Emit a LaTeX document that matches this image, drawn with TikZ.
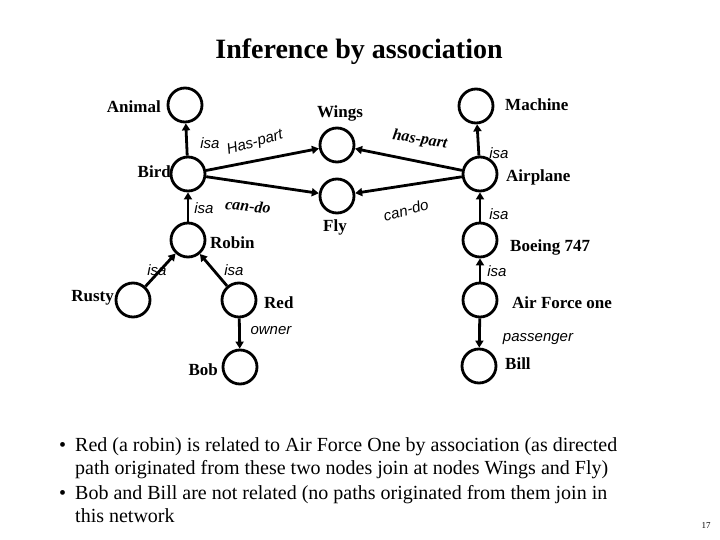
\documentclass[tikz,border=0pt]{standalone}
\usepackage{fontspec}
\setmainfont{Liberation Serif}
\newfontfamily\edgefont{Liberation Sans}
\usetikzlibrary{arrows.meta}
\tikzset{
  nd/.style={circle, draw, line width=2.8pt, minimum size=34pt, inner sep=0pt},
  arr/.style={line width=2.8pt, -{Triangle[length=7pt,width=8pt]}},
  lab/.style={font=\bfseries\fontsize{17}{19}\selectfont, inner sep=1pt},
  el/.style={font=\edgefont\itshape\fontsize{15}{17}\selectfont, inner sep=1pt},
  elb/.style={font=\bfseries\itshape\fontsize{16}{18}\selectfont, inner sep=1pt},
  bul/.style={font=\fontsize{20}{23.5}\selectfont, align=left, anchor=north west, inner sep=0pt}
}
\newcommand{\mybul}{\makebox[0pt][r]{\textbullet\hspace{9pt}}}
\begin{document}
\begin{tikzpicture}[x=1pt,y=-1pt]
\useasboundingbox (0,0) rectangle (720,540);
\node[font=\bfseries\fontsize{28}{30}\selectfont] (title) at (359,52) {Inference by association};
% circles
\node[nd] (animal) at (185,105) {};
\node[nd] (bird) at (188,174) {};
\node[nd] (robin) at (188,240) {};
\node[nd] (rusty) at (133,300) {};
\node[nd] (red) at (239,300) {};
\node[nd] (bob) at (240,367) {};
\node[nd] (wings) at (337,145) {};
\node[nd] (fly) at (337,196) {};
\node[nd] (machine) at (476,106) {};
\node[nd] (airplane) at (480,174) {};
\node[nd] (boeing) at (480,240) {};
\node[nd] (afo) at (480,300) {};
\node[nd] (bill) at (479,366) {};
% labels
\node[lab, anchor=east] (lanimal) at (162,107) {Animal};
\node[lab] (lwings) at (340,113) {Wings};
\node[lab, anchor=west] (lmachine) at (504,105) {Machine};
\node[lab, anchor=east] (lbird) at (172,172) {Bird};
\node[lab, anchor=west] (lrobin) at (209,243) {Robin};
\node[lab, anchor=east] (lrusty) at (115,298) {Rusty};
\node[lab, anchor=west] (lred) at (263,303) {Red};
\node[lab, anchor=east] (lbob) at (219,370) {Bob};
\node[lab] (lfly) at (335,227) {Fly};
\node[lab, anchor=west] (lairplane) at (505,177) {Airplane};
\node[lab, anchor=west] (lboeing) at (509,247) {Boeing 747};
\node[lab, anchor=west] (lafo) at (511,303) {Air Force one};
\node[lab, anchor=west] (lbill) at (504,364) {Bill};
% edges
\draw[arr] (bird) -- (animal);
\draw[arr] (robin) -- (bird);
\draw[arr] (rusty) -- (robin);
\draw[arr] (red) -- (robin);
\draw[arr] (red) -- (bob);
\draw[arr] (bird) -- (wings);
\draw[arr] (bird) -- (fly);
\draw[arr] (airplane) -- (wings);
\draw[arr] (airplane) -- (fly);
\draw[arr] (airplane) -- (machine);
\draw[arr] (boeing) -- (airplane);
\draw[arr] (afo) -- (boeing);
\draw[arr] (afo) -- (bill);
% edge labels
\node[el] (e1) at (210,143) {isa};
\node[el] (e2) at (204,208) {isa};
\node[el, rotate=16] (e3) at (255,143) {Has-part};
\node[elb, rotate=-6] (e4) at (248,206) {can-do};
\node[elb, rotate=-9] (e5) at (420,140) {has-part};
\node[el, rotate=15] (e6) at (406,210) {can-do};
\node[el] (e7) at (499,153) {isa};
\node[el] (e8) at (499,214) {isa};
\node[el] (e9) at (157,270) {isa};
\node[el] (e10) at (234,270) {isa};
\node[el] (e11) at (497,271) {isa};
\node[el] (e12) at (271,331) {owner};
\node[el] (e13) at (538,339) {passenger};
% bullets
\node[bul] (t1) at (75,437) {\mybul Red (a robin) is related to Air Force One by association (as directed\\path originated from these two nodes join at nodes Wings and Fly)};
\node[bul] (t2) at (75,485) {\mybul Bob and Bill are not related (no paths originated from them join in\\this network};
\node[font=\fontsize{9}{10}\selectfont] (pg) at (706,526) {17};
\end{tikzpicture}
\end{document}
